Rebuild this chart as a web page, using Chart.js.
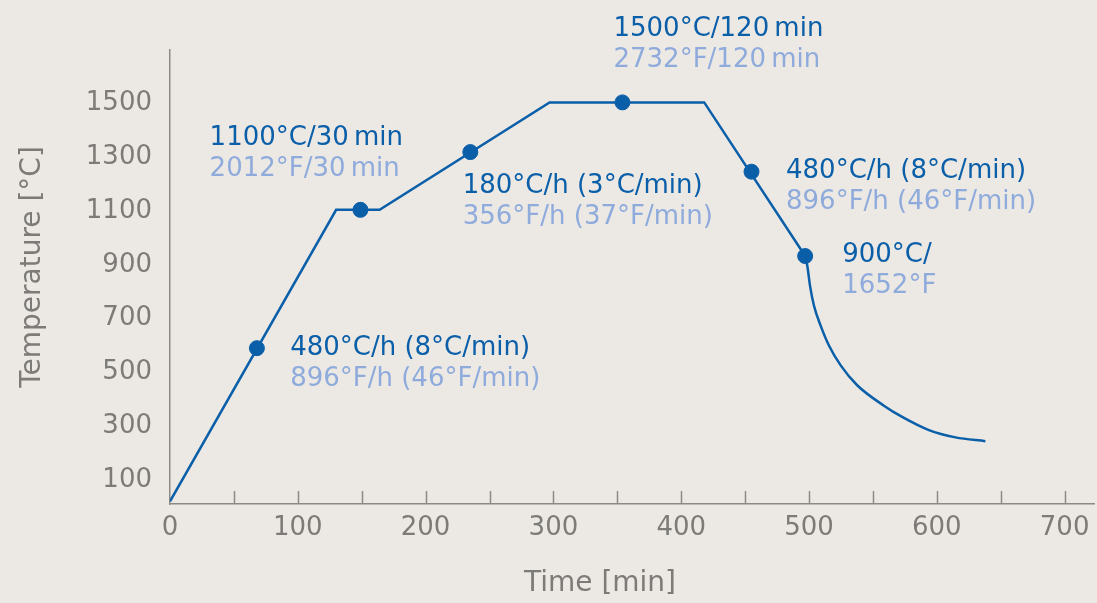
<!DOCTYPE html>
<html>
<head>
<meta charset="utf-8">
<script src="https://cdn.jsdelivr.net/npm/chart.js@4.4.1/dist/chart.umd.min.js"></script>
<style>
  html, body { margin: 0; padding: 0; background: #ece9e5; overflow: hidden; }
  #wrap { position: relative; width: 1097px; height: 603px; }
  canvas { display: block; }
</style>
</head>
<body>
<div id="wrap"><canvas id="fireChart"></canvas></div>
<script>
// firing profile (time in min, temperature in °C)
const rampTime = [0, 130, 164, 297, 418, 497];
const rampTemp = [20, 1105, 1105, 1505, 1505, 933];
const coolTime = [497, 498.7, 500.8, 503.9, 509.1, 515.6, 524.8, 537.7, 558.6, 572.9, 593.8, 614.6, 638];
const coolTemp = [933, 896, 822, 748, 674, 600, 526, 452, 376, 334, 285, 258, 244];
const markTime = [68, 149, 235, 354, 455, 497];
const markTemp = [590, 1105, 1320, 1505, 1247, 933];

const xTicks = [0, 50, 100, 150, 200, 250, 300, 350, 400, 450, 500, 550, 600, 650, 700];
const yTicks = [100, 300, 500, 700, 900, 1100, 1300, 1500];

const notesC = ['1100°C/30\u2009min', '180°C/h (3°C/min)', '1500°C/120\u2009min', '480°C/h (8°C/min)', '900°C/', '480°C/h (8°C/min)'];
const notesF = ['2012°F/30\u2009min', '356°F/h (37°F/min)', '2732°F/120\u2009min', '896°F/h (46°F/min)', '1652°F', '896°F/h (46°F/min)'];
// where each note sits, in time / temperature units
const noteTime = [31, 229, 347, 482, 526, 94];
const noteTemp = [1370, 1193, 1778, 1248, 937, 589];

const blue = '#0a5fa8';
const lightBlue = '#8fabdc';
const grey = '#7d7b78';
const font = "'DejaVu Sans', sans-serif";

const toXY = (xs, ys) => xs.map((x, i) => ({ x: x, y: ys[i] }));

const bgPlugin = {
    id: 'bg',
    beforeDraw(chart) {
        const c = chart.ctx;
        c.save();
        c.fillStyle = '#ece9e5';
        c.fillRect(0, 0, chart.width, chart.height);
        c.restore();
    }
};

// ticks on the x axis point inwards, so draw them by hand
const innerTicks = {
    id: 'innerTicks',
    afterDraw(chart) {
        const c = chart.ctx;
        const sx = chart.scales.x;
        const bottom = chart.chartArea.bottom;
        c.save();
        c.strokeStyle = '#8c8a87';
        c.lineWidth = 1.5;
        xTicks.forEach(v => {
            if (v === 0) return;
            const px = Math.round(sx.getPixelForValue(v)) + 0.5;
            c.beginPath();
            c.moveTo(px, bottom - 13);
            c.lineTo(px, bottom);
            c.stroke();
        });
        c.restore();
    }
};

// axis titles sit a little off-centre in the original
const axisTitles = {
    id: 'axisTitles',
    afterDraw(chart) {
        const c = chart.ctx;
        const a = chart.chartArea;
        c.save();
        c.fillStyle = grey;
        c.font = '28px ' + font;
        c.textAlign = 'center';
        c.textBaseline = 'middle';
        c.fillText('Time [min]', a.left + 430, chart.height - 19);
        c.translate(33, a.top + 217);
        c.rotate(-Math.PI / 2);
        c.fillText('Temperature [°C]', 0, 0);
        c.restore();
    }
};

const notesPlugin = {
    id: 'notes',
    afterDraw(chart) {
        const c = chart.ctx;
        const sx = chart.scales.x, sy = chart.scales.y;
        c.save();
        c.font = '26px ' + font;
        c.textAlign = 'left';
        c.textBaseline = 'middle';
        notesC.forEach((t, i) => {
            const px = sx.getPixelForValue(noteTime[i]);
            const py = sy.getPixelForValue(noteTemp[i]);
            c.fillStyle = blue;
            c.fillText(t, px, py);
            c.fillStyle = lightBlue;
            c.fillText(notesF[i], px, py + 31);
        });
        c.restore();
    }
};

const chart = new Chart(document.getElementById('fireChart'), {
    type: 'line',
    data: {
        datasets: [{
            data: toXY(rampTime, rampTemp),
            borderColor: blue,
            borderWidth: 2.5,
            pointRadius: 0,
            tension: 0,
            fill: false
        }, {
            data: toXY(coolTime, coolTemp),
            borderColor: blue,
            borderWidth: 2.5,
            pointRadius: 0,
            cubicInterpolationMode: 'monotone',
            fill: false
        }, {
            type: 'scatter',
            data: toXY(markTime, markTemp),
            backgroundColor: blue,
            borderColor: blue,
            pointRadius: 7.5,
            pointHoverRadius: 7.5
        }]
    },
    options: {
        responsive: true,
        maintainAspectRatio: false,
        animation: false,
        layout: {
            autoPadding: false,
            padding: { top: 50, right: 3, left: 0, bottom: 0 }
        },
        plugins: {
            legend: { display: false },
            tooltip: { enabled: false }
        },
        scales: {
            x: {
                type: 'linear',
                min: 0,
                max: 723,
                afterBuildTicks: s => { s.ticks = xTicks.map(v => ({ value: v })); },
                afterFit: s => { s.height = 99; s.paddingLeft = 0; s.paddingRight = 0; },
                grid: { display: false, drawTicks: false, tickLength: 0 },
                border: { display: true, color: '#8c8a87', width: 1.5 },
                ticks: {
                    autoSkip: false,
                    maxRotation: 0,
                    padding: 9,
                    color: grey,
                    font: { family: font, size: 26 },
                    callback: v => (v % 100 === 0 ? String(v) : '')
                }
            },
            y: {
                min: 10,
                max: 1700,
                afterBuildTicks: s => { s.ticks = yTicks.map(v => ({ value: v })); },
                afterFit: s => { s.width = 170; s.paddingTop = 0; s.paddingBottom = 0; },
                grid: { display: false, drawTicks: false, tickLength: 0 },
                border: { display: true, color: '#8c8a87', width: 1.5 },
                ticks: {
                    padding: 18,
                    color: grey,
                    font: { family: font, size: 26 },
                    callback: v => String(v)
                }
            }
        }
    },
    plugins: [bgPlugin, innerTicks, axisTitles, notesPlugin]
});
</script>
</body>
</html>
